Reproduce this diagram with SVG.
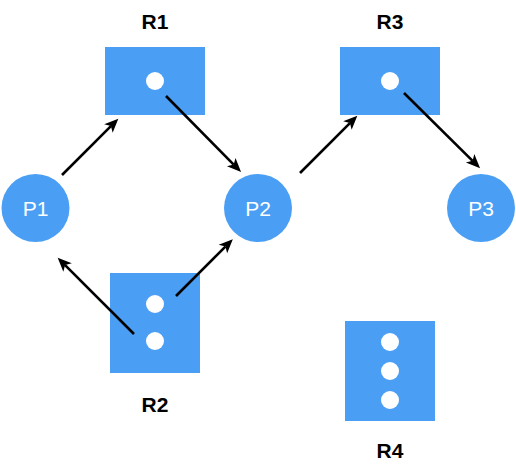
<svg xmlns="http://www.w3.org/2000/svg" width="516" height="469" viewBox="0 0 516 469">
  <style>
    .res { fill: #4a9ff5; }
    .proc { fill: #4a9ff5; }
    .dot { fill: #ffffff; }
    .rlabel { font-family: "Liberation Sans", Arial, sans-serif; font-size: 21px; font-weight: bold; fill: #000000; text-anchor: middle; }
    .plabel { font-family: "Liberation Sans", Arial, sans-serif; font-size: 21px; fill: #ffffff; text-anchor: middle; }
    .edge { stroke: #000000; stroke-width: 2.6; fill: none; marker-end: url(#arrow); }
  </style>
  <defs>
    <marker id="arrow" markerUnits="userSpaceOnUse" markerWidth="14" markerHeight="12" refX="3.5" refY="6" orient="auto" overflow="visible">
      <path d="M0,0 L14,6 L0,12 L3.5,6 z" fill="#000000"/>
    </marker>
  </defs>
  <rect width="516" height="469" fill="#ffffff"/>

  <g id="R1">
    <rect class="res" x="105" y="47" width="100" height="68"/>
    <circle class="dot" cx="155" cy="81" r="9"/>
    <text class="rlabel" x="155" y="28.5">R1</text>
  </g>
  <g id="R3">
    <rect class="res" x="340" y="47" width="100" height="68"/>
    <circle class="dot" cx="390" cy="81" r="9"/>
    <text class="rlabel" x="390" y="28.5">R3</text>
  </g>
  <g id="R2">
    <rect class="res" x="110" y="273" width="90" height="100"/>
    <circle class="dot" cx="155" cy="304" r="9"/>
    <circle class="dot" cx="155" cy="341" r="9"/>
    <text class="rlabel" x="155" y="412">R2</text>
  </g>
  <g id="R4">
    <rect class="res" x="345" y="321" width="90" height="100"/>
    <circle class="dot" cx="390" cy="342" r="9"/>
    <circle class="dot" cx="390" cy="371" r="9"/>
    <circle class="dot" cx="390" cy="400" r="9"/>
    <text class="rlabel" x="390" y="458">R4</text>
  </g>
  <g id="P1">
    <circle class="proc" cx="35.5" cy="208" r="34"/>
    <text class="plabel" x="35.5" y="215.5">P1</text>
  </g>
  <g id="P2">
    <circle class="proc" cx="258" cy="208" r="34"/>
    <text class="plabel" x="258" y="215.5">P2</text>
  </g>
  <g id="P3">
    <circle class="proc" cx="481" cy="208" r="34"/>
    <text class="plabel" x="481" y="215.5">P3</text>
  </g>

  <g id="connectors">
    <line class="edge" x1="62" y1="175" x2="110.9" y2="126.1"/>
    <line class="edge" x1="166" y1="96" x2="233.7" y2="164.6"/>
    <line class="edge" x1="300" y1="173" x2="349.9" y2="123.1"/>
    <line class="edge" x1="404" y1="93" x2="472.6" y2="160.8"/>
    <line class="edge" x1="134" y1="334" x2="65.1" y2="265.1"/>
    <line class="edge" x1="176" y1="296" x2="225.4" y2="246.6"/>
  </g>
</svg>
